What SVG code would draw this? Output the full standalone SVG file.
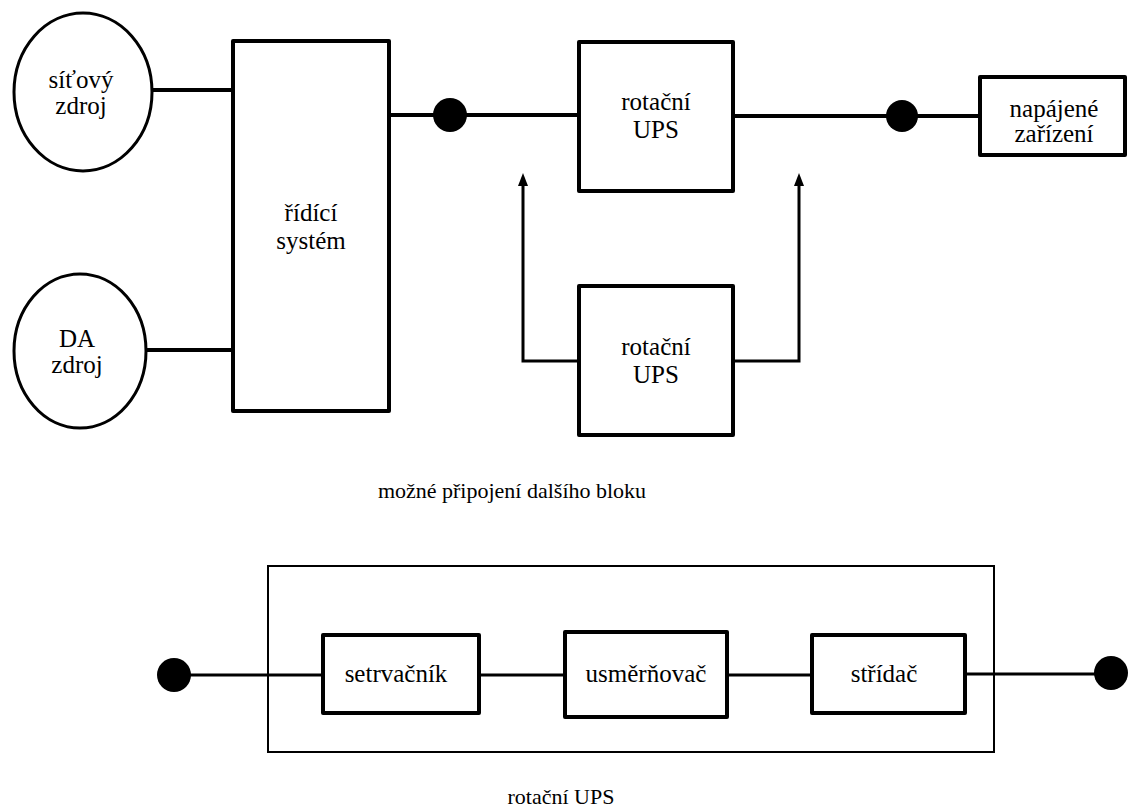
<svg xmlns="http://www.w3.org/2000/svg" width="1129" height="810" viewBox="0 0 1129 810">
<style>
  .box { fill: #fff; stroke: #000; stroke-width: 4; stroke-linejoin: round; }
  .ell { fill: #fff; stroke: #000; stroke-width: 3; }
  .thin { fill: none; stroke: #000; stroke-width: 2; }
  .wire { fill: none; stroke: #000; stroke-width: 4; }
  .wire2 { fill: none; stroke: #000; stroke-width: 3; }
  .dot { fill: #000; }
  .lbl { font-family: 'Liberation Serif', 'Times New Roman', serif; font-size: 25px; fill: #000; text-anchor: middle; }
  .cap { font-family: 'Liberation Serif', 'Times New Roman', serif; font-size: 22px; fill: #000; text-anchor: middle; }
</style>
<rect width="1129" height="810" fill="#fff"/>

<g id="connectors">
  <line class="wire" x1="150" y1="90" x2="233" y2="90"/>
  <line class="wire" x1="144" y1="350" x2="233" y2="350"/>
  <line class="wire" x1="391" y1="115" x2="579" y2="115"/>
  <line class="wire" x1="733" y1="116" x2="980" y2="116"/>
  <path class="wire2" d="M579 361 H523 V183"/>
  <path class="wire2" d="M733 361 H799 V183"/>
  <path d="M523 173 L528 186 L518 186 Z" fill="#000"/>
  <path d="M799 173 L804 186 L794 186 Z" fill="#000"/>
  <line class="wire2" x1="174" y1="675" x2="323" y2="675"/>
  <line class="wire2" x1="479" y1="675" x2="565" y2="675"/>
  <line class="wire2" x1="727" y1="675" x2="812" y2="675"/>
  <line class="wire2" x1="965" y1="674" x2="1108" y2="674"/>
</g>

<g id="dots">
  <circle class="dot" cx="450" cy="115" r="17"/>
  <circle class="dot" cx="902" cy="116" r="16"/>
  <circle class="dot" cx="174" cy="675" r="17"/>
  <circle class="dot" cx="1111" cy="673" r="17"/>
</g>

<g id="sitovy-zdroj">
  <ellipse class="ell" cx="83" cy="92" rx="69" ry="79"/>
  <text class="lbl" x="81" y="88">síťový</text>
  <text class="lbl" x="81" y="114">zdroj</text>
</g>
<g id="da-zdroj">
  <ellipse class="ell" cx="80" cy="351" rx="66" ry="77"/>
  <text class="lbl" x="77" y="347">DA</text>
  <text class="lbl" x="77" y="373">zdroj</text>
</g>
<g id="ridici-system">
  <rect class="box" x="233" y="41" width="156" height="370"/>
  <text class="lbl" x="311" y="221">řídící</text>
  <text class="lbl" x="311" y="249">systém</text>
</g>
<g id="ups-top">
  <rect class="box" x="579" y="42" width="154" height="149"/>
  <text class="lbl" x="656" y="110">rotační</text>
  <text class="lbl" x="656" y="138">UPS</text>
</g>
<g id="ups-bottom">
  <rect class="box" x="579" y="286" width="154" height="149"/>
  <text class="lbl" x="656" y="355">rotační</text>
  <text class="lbl" x="656" y="383">UPS</text>
</g>
<g id="napajene">
  <rect class="box" x="980" y="77" width="145" height="78"/>
  <text class="lbl" x="1054" y="117">napájené</text>
  <text class="lbl" x="1054" y="142">zařízení</text>
</g>
<g id="caption-top">
  <text class="cap" x="512" y="498">možné připojení dalšího bloku</text>
</g>

<g id="ups-detail">
  <rect class="thin" x="268" y="566" width="726" height="186"/>
</g>
<g id="setrvacnik">
  <rect class="box" x="323" y="635" width="156" height="78"/>
  <text class="lbl" x="396" y="682">setrvačník</text>
</g>
<g id="usmernovac">
  <rect class="box" x="565" y="632" width="162" height="85"/>
  <text class="lbl" x="646" y="682">usměrňovač</text>
</g>
<g id="stridac">
  <rect class="box" x="812" y="635" width="153" height="78"/>
  <text class="lbl" x="884" y="682">střídač</text>
</g>
<g id="caption-bottom">
  <text class="cap" x="561" y="804">rotační UPS</text>
</g>
</svg>
